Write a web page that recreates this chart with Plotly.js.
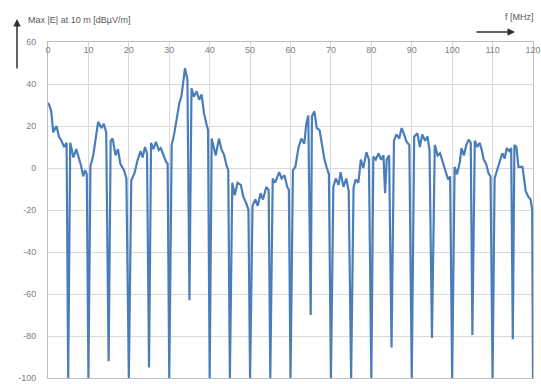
<!DOCTYPE html>
<html>
<head>
<meta charset="utf-8">
<script src="https://cdn.plot.ly/plotly-3.0.1.min.js"></script>
<style>
html,body{margin:0;padding:0;background:#fff;}
#chart{width:541px;height:384px;}
</style>
</head>
<body>
<div id="chart"></div>
<script>
// Frequency in MHz
const freqMHz = [
  0, 0.3, 0.8, 1.3, 2.1, 2.7, 3.3, 4.0, 4.6, 5,
  5.5, 6.3, 7.0, 7.7, 8.2, 8.7, 9.2, 9.6, 10,
  10.5, 11.2, 11.8, 12.4, 13.2, 13.8, 14.4, 15,
  15.5, 16.0, 16.7, 17.3, 17.9, 18.8, 19.4, 20,
  20.6, 21.4, 22.2, 22.9, 23.4, 24.0, 24.5, 25,
  25.5, 26.1, 26.7, 27.4, 27.9, 28.6, 29.2, 29.6, 30,
  30.6, 31.2, 31.9, 32.5, 33.0, 33.5, 33.9, 34.5, 35,
  35.5, 36.1, 36.8, 37.4, 38.0, 38.6, 39.2, 39.6, 40,
  40.5, 41.5, 42.3, 42.9, 43.6, 44.2, 44.6, 45,
  45.6, 46.2, 46.9, 47.7, 48.3, 49.1, 49.6, 50,
  50.6, 51.3, 51.9, 52.6, 53.2, 54.0, 54.6, 55,
  55.6, 56.2, 57.2, 57.8, 58.5, 59.2, 59.6, 60,
  60.6, 61.2, 62.0, 62.7, 63.4, 63.9, 64.4, 65,
  65.3, 65.9, 66.5, 67.2, 67.8, 68.4, 69.0, 69.5, 70,
  70.6, 71.2, 71.9, 72.4, 73.1, 73.8, 74.4, 75,
  75.6, 76.1, 76.8, 77.4, 78.0, 78.8, 79.4, 80,
  80.5, 81.1, 81.8, 82.4, 83.0, 83.4, 83.8, 84.4, 85,
  85.6, 86.2, 86.9, 87.5, 88.1, 88.7, 89.4, 90,
  90.6, 91.4, 92.0, 92.6, 93.3, 93.9, 94.4, 95,
  95.7, 96.4, 97.0, 97.6, 98.4, 99.0, 99.5, 100,
  100.6, 101.2, 101.9, 102.3, 102.9, 103.5, 104.1, 104.6, 105,
  105.6, 106.2, 106.8, 107.4, 107.8, 108.4, 109.0, 109.5, 110,
  110.5, 111.1, 111.7, 112.4, 113.0, 113.5, 114.1, 114.6, 115,
  115.4, 115.9, 116.4, 117.4, 118.2, 118.8, 119.4, 119.8, 120
];
// Max |E| at 10 m in dBuV/m
const maxE = [
  31, 30, 27, 17, 20, 15, 13, 10, 12, -100,
  12, 5, 9, 4, 1, -4, -1, -3, -100,
  1, 6, 14, 22, 19, 21, 17, -92,
  13, 14, 6, 9, 2, -1, -5, -100,
  -6, -2.5, 4, 8, 5, 10, 7, -95,
  12, 9, 12.5, 8.5, 9.5, 5.5, 3, 2, -100,
  11, 16, 24, 31, 34, 42, 47.5, 42, -63,
  38, 34, 36.5, 32.5, 35, 26, 21, 18, -100,
  14, 6, 14, 9, 6, 1, -1, -100,
  -7, -13, -7, -8, -13.5, -17, -20, -100,
  -18, -15, -18, -12, -15, -9, -10.5, -100,
  -5, -7, -2, -5, -3.5, -9, -10.5, -100,
  -1, 0.5, 10, 14, 11.5, 21, 25, -70,
  24.5, 27, 19, 18, 11, 4, 0, -3, -100,
  -9, -5, -8, -2, -9, -5, -11, -100,
  -9.5, -5.5, -7, 4, 0, 7.5, 4, -100,
  5.5, 4, 7, 4, 6, -12, 4, 6, -85.5,
  13, 16, 14, 19, 16, 12.5, 11, -100,
  15, 16.5, 10, 16, 13, 15, 8.5, -81,
  11, 6, 7, 3, -2.5, -5.5, -4, -100,
  0.5, -3, 3, 9.5, 6, 11, 13.5, 12, -79.5,
  13, 10, 12, 8, 4, 2, -2.5, -4, -100,
  -5, -1, 2, 7, 4.5, 9.5, 8, 9.5, -81.5,
  11, 10, 0.5, 0.5, -11, -13.5, -15, -20, -100
];
const xTicks = [0, 10, 20, 30, 40, 50, 60, 70, 80, 90, 100, 110, 120];
const yTicks = [60, 40, 20, 0, -20, -40, -60, -80, -100];
const yTitle = "Max |E| at 10 m [dBµV/m]";
const xTitle = "f [MHz]";

const L = 48, R = 8, T = 42, B = 6, W = 541, H = 384;
const pw = W - L - R, ph = H - T - B;
const px = v => (v - L) / pw;
const py = v => (H - B - v) / ph;

const grid = '#d9d9d9';
const font = {family: 'Liberation Sans, Arial, sans-serif', size: 9, color: '#7f7f7f'};

Plotly.newPlot('chart', [{
  x: freqMHz, y: maxE, type: 'scatter', mode: 'lines',
  line: {color: '#4a7ebb', width: 2.2}
}], {
  width: W, height: H,
  margin: {l: L, r: R, t: T, b: B},
  paper_bgcolor: '#fff', plot_bgcolor: '#fff',
  showlegend: false,
  font: font,
  xaxis: {
    range: [0, 120], tickvals: xTicks, ticktext: xTicks.map(String),
    side: 'top', ticklabelposition: 'inside', ticklabeloverflow: 'allow', ticks: '',
    ticklabelstandoff: 4,
    showgrid: true, gridcolor: grid, gridwidth: 1,
    showline: true, linecolor: '#bfbfbf', linewidth: 1, mirror: true,
    zeroline: false, tickfont: font
  },
  yaxis: {
    range: [-100, 60], tickvals: yTicks, ticktext: yTicks.map(String),
    ticklabeloverflow: 'allow',
    ticks: '', showgrid: true, gridcolor: grid, gridwidth: 1,
    showline: true, linecolor: '#bfbfbf', linewidth: 1, mirror: true,
    zeroline: true, zerolinecolor: grid, zerolinewidth: 1,
    tickfont: font, ticklabelstandoff: 9
  },
  annotations: [
    {xref: 'paper', yref: 'paper', x: px(26), y: py(20), xanchor: 'left', yanchor: 'middle',
     text: yTitle, showarrow: false, font: {family: font.family, size: 9, color: '#595959'}},
    {xref: 'paper', yref: 'paper', x: px(503), y: py(17), xanchor: 'left', yanchor: 'middle',
     text: xTitle, showarrow: false, font: {family: font.family, size: 9, color: '#595959'}},
    {xref: 'paper', yref: 'paper', x: px(17), y: py(19), text: '', showarrow: true,
     ax: 0, ay: 51, arrowhead: 2, arrowsize: 1, arrowwidth: 1.5, arrowcolor: '#303030'},
    {xref: 'paper', yref: 'paper', x: px(515), y: py(32), text: '', showarrow: true,
     ax: -40, ay: 0, arrowhead: 2, arrowsize: 1, arrowwidth: 1.5, arrowcolor: '#303030'}
  ]
}, {staticPlot: true, displayModeBar: false});
</script>
</body>
</html>
